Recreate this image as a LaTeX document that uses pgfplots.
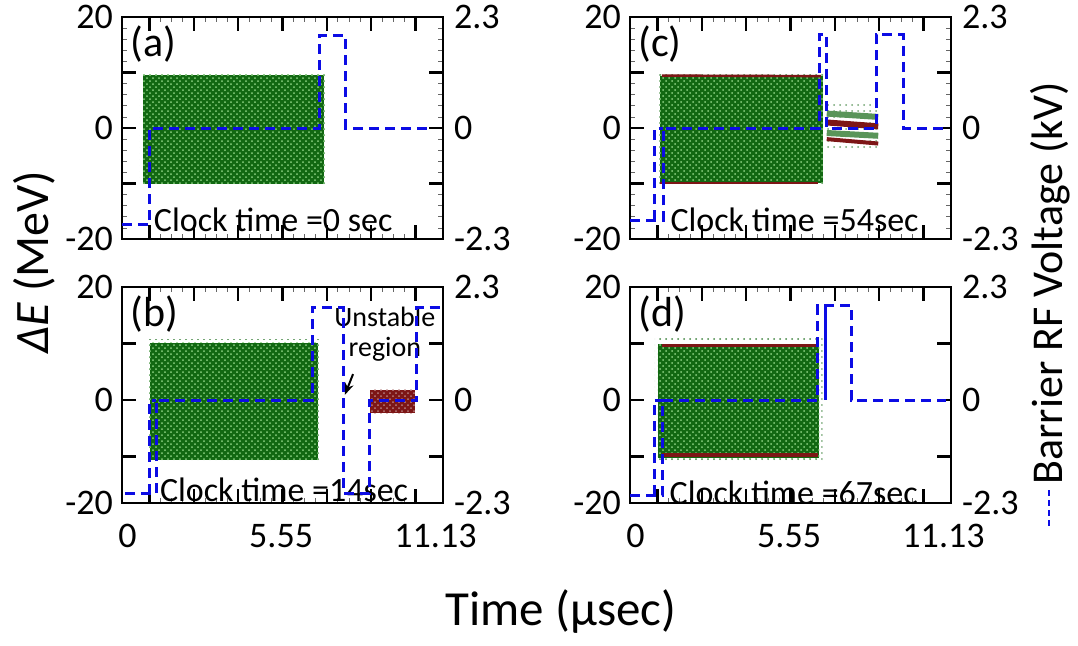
\documentclass[border=0pt]{standalone}
\usepackage{fontspec}
\setmainfont{Carlito}
\usepackage{pgfplots}
\pgfplotsset{compat=1.18}
\usetikzlibrary{patterns,arrows.meta}

\definecolor{cloud}{RGB}{18,104,18}
\definecolor{speck}{RGB}{140,210,130}
\definecolor{beam}{RGB}{125,22,22}
\definecolor{rfblue}{RGB}{12,12,228}

\pgfplotsset{
  panel/.style={scale only axis, width=160.5pt, xmin=-0.2, xmax=11.4,
    axis line style={line width=1.4pt},
    major tick length=7pt, minor tick length=2.5pt,
    every major tick/.append style={line width=1.2pt, black},
    every minor tick/.append style={line width=0.4pt, black!60},
    tick label style={font=\fontsize{18}{18}\selectfont},
    /pgf/number format/assume math mode=true},
  leftax/.style={panel, xtick={0.8,2.4,4.0,5.6,7.2,8.8,10.4}, xticklabels={},
    minor x tick num=3, ytick pos=left, minor y tick num=4,
    yticklabel style={xshift=-1pt}},
  xlab/.style={extra x ticks={0,5.55,11.13}, extra x tick labels={0,5.55,11.13},
    extra x tick style={tick style={draw=none}},
    xticklabel style={yshift=-7pt}},
  rightax/.style={panel, xtick=\empty, ytick pos=right, minor y tick num=4,
    yticklabel style={xshift=2pt}},
  toprow/.style={height=111pt, ymin=-20, ymax=20,
    ytick={-20,-10,0,10,20}, yticklabels={-20,,0,,20}},
  botrow/.style={height=108pt, ymin=-18.2, ymax=20,
    ytick={-18.2,-10,0,10,20}, yticklabels={-20,,0,,20}},
  toprowr/.style={height=111pt, ymin=-2.3, ymax=2.3,
    ytick={-2.3,-1.15,0,1.15,2.3}, yticklabels={-2.3,,0,,2.3}},
  botrowr/.style={height=108pt, ymin=-2.093, ymax=2.3,
    ytick={-2.093,-1.15,0,1.15,2.3}, yticklabels={-2.3,,0,,2.3}},
  cloudfill/.style={fill=cloud, draw=none,
    postaction={pattern=crosshatch dots, pattern color=speck}},
  halo/.style={draw=none, pattern=dots, pattern color=cloud!80},
  rf/.style={rfblue, line width=1.5pt, dash pattern=on 5pt off 3pt},
}
\newcommand{\panelfont}{\fontsize{21}{21}\selectfont}
\newcommand{\clockfont}{\fontsize{17}{17}\selectfont}
\newcommand{\notefont}{\fontsize{14}{14}\selectfont}

\begin{document}
\begin{tikzpicture}
\path[use as bounding box] (0,0) rectangle (539pt,-322.5pt);

% ---------- (a)
\begin{axis}[leftax, toprow, at={(61pt,-8.5pt)}, anchor=north west]
  \addplot[halo] coordinates {(0.42,-10.6)(7.2,-10.6)(7.2,10.2)(0.42,10.2)} -- cycle;
  \addplot[cloudfill] coordinates {(0.55,-10.0)(7.11,-10.0)(7.11,9.6)(0.55,9.6)} -- cycle;
  \node[anchor=north west, font=\panelfont, inner sep=0pt] at ([xshift=4pt,yshift=-4pt]rel axis cs:0,1) {(a)};
  \node[anchor=west, font=\clockfont, inner sep=0pt] at (axis cs:0.94,-16.5) {Clock time =0 sec};
\end{axis}
\begin{axis}[rightax, toprowr, at={(61pt,-8.5pt)}, anchor=north west]
  \addplot[rf] coordinates {(-0.2,-2.0) (0.80,-2.0) (0.80,0) (6.93,0) (6.93,1.91) (7.89,1.91) (7.89,0) (10.94,0)};
\end{axis}

% ---------- (c)
\begin{axis}[leftax, toprow, at={(315pt,-8.5pt)}, anchor=north west]
  \addplot[halo] coordinates {(0.8,-10.4)(6.85,-10.4)(6.85,10.0)(0.8,10.0)} -- cycle;
  \addplot[cloudfill] coordinates {(0.88,-9.9)(6.76,-9.9)(6.76,9.4)(0.88,9.4)} -- cycle;
  \addplot[beam, line width=1.2pt] coordinates {(0.95,9.45)(6.7,9.35)};
  \addplot[beam, line width=1.2pt] coordinates {(0.9,-9.95)(6.6,-9.95)};
  \addplot[halo, pattern color=cloud!60] coordinates {(6.91,-4.0)(8.77,-4.0)(8.77,4.3)(6.91,4.3)} -- cycle;
  \addplot[cloud!70, line width=3pt] coordinates {(6.91,2.6)(8.77,2.0)};
  \addplot[cloud!70, line width=3pt] coordinates {(6.91,-0.9)(8.77,-1.4)};
  \addplot[beam, line width=3pt] coordinates {(6.91,1.0)(8.77,0.3)};
  \addplot[beam, line width=2pt] coordinates {(6.91,-2.0)(8.77,-2.8)};
  \node[anchor=north west, font=\panelfont, inner sep=0pt] at ([xshift=4pt,yshift=-4pt]rel axis cs:0,1) {(c)};
  \node[anchor=west, font=\clockfont, inner sep=0pt] at (axis cs:1.25,-16.5) {Clock time =54sec};
\end{axis}
\begin{axis}[rightax, toprowr, at={(315pt,-8.5pt)}, anchor=north west]
  \addplot[rf] coordinates {(0.70,-1.91) (0.70,0) (1.0,0)};
  \addplot[rf] coordinates {(-0.2,-1.91) (1.0,-1.91) (1.0,0) (6.63,0) (6.63,1.93) (6.91,1.93) (6.91,0) (8.69,0) (8.69,1.93) (9.68,1.93) (9.68,0) (11.3,0)};
\end{axis}

% ---------- (b)
\begin{axis}[leftax, botrow, xlab, at={(61pt,-143.5pt)}, anchor=north west]
  \addplot[halo] coordinates {(0.7,-11.2)(6.98,-11.2)(6.98,10.7)(0.7,10.7)} -- cycle;
  \addplot[cloudfill] coordinates {(0.80,-10.6)(6.88,-10.6)(6.88,10.1)(0.80,10.1)} -- cycle;
  \addplot[fill=beam, draw=none, postaction={pattern=crosshatch dots, pattern color=beam!55}] coordinates {(8.77,-2.3)(10.38,-2.3)(10.38,1.8)(8.77,1.8)} -- cycle;
  \node[anchor=north west, font=\panelfont, inner sep=0pt] at ([xshift=4pt,yshift=-4pt]rel axis cs:0,1) {(b)};
  \node[anchor=west, font=\clockfont, inner sep=0pt] at (axis cs:1.16,-15.9) {Clock time =14sec};
  \node[font=\notefont, inner sep=0pt] at (axis cs:9.3,14.8) {Unstable};
  \node[font=\notefont, inner sep=0pt] at (axis cs:9.3,9.0) {region};
  \draw[-{Stealth[length=6pt]}, line width=1pt] (axis cs:8.15,4.6) -- (axis cs:7.85,0.9);
\end{axis}
\begin{axis}[rightax, botrowr, at={(61pt,-143.5pt)}, anchor=north west]
  \addplot[rf] coordinates {(0.78,-1.9) (0.78,0) (1.04,0)};
  \addplot[rf] coordinates {(-0.1,-1.9) (1.04,-1.9) (1.04,0) (6.67,0) (6.67,1.89) (7.79,1.89) (7.79,-1.9) (8.75,-1.9) (8.75,0) (10.44,0) (10.44,1.89) (11.28,1.89)};
\end{axis}

% ---------- (d)
\begin{axis}[leftax, botrow, xlab, at={(315pt,-143.5pt)}, anchor=north west]
  \addplot[halo] coordinates {(0.7,-11.0)(6.75,-11.0)(6.75,11.0)(0.7,11.0)} -- cycle;
  \addplot[cloudfill] coordinates {(0.80,-10.3)(6.64,-10.3)(6.64,10.0)(0.80,10.0)} -- cycle;
  \addplot[beam, line width=1.6pt] coordinates {(0.95,9.6)(6.6,9.6)};
  \addplot[beam, line width=1.6pt] coordinates {(0.95,-9.7)(6.6,-9.7)};
  \node[anchor=north west, font=\panelfont, inner sep=0pt] at ([xshift=4pt,yshift=-4pt]rel axis cs:0,1) {(d)};
  \node[anchor=west, font=\clockfont, inner sep=0pt] at (axis cs:1.22,-16.4) {Clock time =67sec};
\end{axis}
\begin{axis}[rightax, botrowr, at={(315pt,-143.5pt)}, anchor=north west]
  \addplot[rf] coordinates {(0.68,-1.93) (0.68,0) (0.98,0)};
  \addplot[rf] coordinates {(-0.2,-1.93) (0.98,-1.93) (0.98,0) (6.58,0) (6.58,1.93) (7.79,1.93) (7.79,0) (11.22,0)};
  \addplot[rfblue, line width=1.5pt] coordinates {(6.88,1.93) (6.88,0)};
\end{axis}

% ---------- shared labels
\node[rotate=90, font=\fontsize{24}{24}\selectfont] at (17pt,-131pt) {\textit{ΔE} (MeV)};
\node[font=\fontsize{24.5}{24.5}\selectfont] at (280.5pt,-306pt) {Time (μsec)};
\draw[rfblue, line width=1.2pt, dash pattern=on 3pt off 2pt] (524.5pt,-245pt) -- (524.5pt,-263pt);
\node[rotate=90, anchor=west, inner sep=0pt, font=\fontsize{22}{22}\selectfont] at (525pt,-242.5pt) {Barrier RF Voltage (kV)};
\end{tikzpicture}
\end{document}
